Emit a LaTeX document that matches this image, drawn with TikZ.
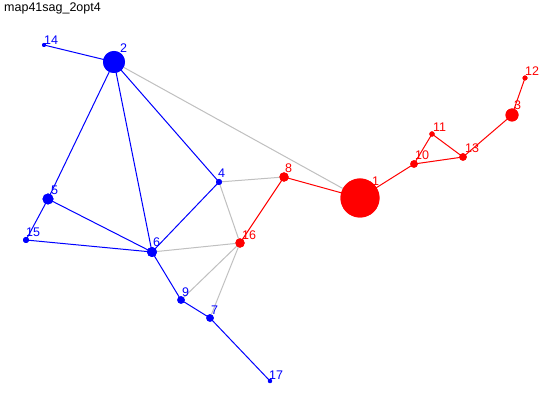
\documentclass[tikz,border=0pt]{standalone}
\usepackage{fontspec}
\setmainfont{Liberation Sans}
\begin{document}
\begin{tikzpicture}[x=1pt,y=-1pt,
  vb/.style={circle,fill=netblue,inner sep=0pt,minimum size=#1},
  vr/.style={circle,fill=netred,inner sep=0pt,minimum size=#1},
  lb/.style={anchor=base west,inner sep=0pt,text=netblue,font=\fontsize{12.5}{14}\selectfont},
  lr/.style={anchor=base west,inner sep=0pt,text=netred,font=\fontsize{12.5}{14}\selectfont},
  eb/.style={draw=netblue,line width=1pt},
  er/.style={draw=netred,line width=1pt},
  eg/.style={draw=netgray,line width=1pt}]
\definecolor{netblue}{RGB}{0,0,255}
\definecolor{netred}{RGB}{255,0,0}
\definecolor{netgray}{RGB}{192,192,192}
\useasboundingbox (0,0) rectangle (550,406);
\fill[white] (0,0) rectangle (550,406);
\node[anchor=base west,inner sep=0pt,font=\fontsize{12.5}{14}\selectfont] (title) at (4,12) {map41sag\_2opt4};
% nodes
\node[vr=39pt] (n1) at (360,198) {};
\node[vb=22pt] (n2) at (114,62) {};
\node[vr=13pt] (n3) at (512,115) {};
\node[vb=6pt] (n4) at (219,182) {};
\node[vb=11pt] (n5) at (48,199) {};
\node[vb=10pt] (n6) at (152,252) {};
\node[vb=7.5pt] (n7) at (210,318) {};
\node[vr=9.3pt] (n8) at (284,177) {};
\node[vb=7.5pt] (n9) at (181,300) {};
\node[vr=7.5pt] (n10) at (414,164) {};
\node[vr=5.3pt] (n11) at (432,134) {};
\node[vr=5pt] (n12) at (525,78) {};
\node[vr=7.5pt] (n13) at (463,157) {};
\node[vb=4pt] (n14) at (44,45) {};
\node[vb=6pt] (n15) at (26,240) {};
\node[vr=9.3pt] (n16) at (240,243) {};
\node[vb=4.3pt] (n17) at (270,381) {};
% edges
\begin{scope}[on background layer/.try]
\end{scope}
\path[eg] (n2.center) -- (n1.center);
\path[eg] (n4.center) -- (n8.center);
\path[eg] (n4.center) -- (n16.center);
\path[eg] (n6.center) -- (n16.center);
\path[eg] (n16.center) -- (n9.center);
\path[eg] (n16.center) -- (n7.center);
\path[eb] (n14.center) -- (n2.center);
\path[eb] (n2.center) -- (n5.center);
\path[eb] (n2.center) -- (n6.center);
\path[eb] (n2.center) -- (n4.center);
\path[eb] (n5.center) -- (n6.center);
\path[eb] (n5.center) -- (n15.center);
\path[eb] (n15.center) -- (n6.center);
\path[eb] (n6.center) -- (n4.center);
\path[eb] (n6.center) -- (n9.center);
\path[eb] (n9.center) -- (n7.center);
\path[eb] (n7.center) -- (n17.center);
\path[er] (n8.center) -- (n16.center);
\path[er] (n8.center) -- (n1.center);
\path[er] (n1.center) -- (n10.center);
\path[er] (n10.center) -- (n11.center);
\path[er] (n10.center) -- (n13.center);
\path[er] (n11.center) -- (n13.center);
\path[er] (n13.center) -- (n3.center);
\path[er] (n3.center) -- (n12.center);
% redraw nodes on top
\foreach \n/\r in {n2/11,n4/3,n5/5.5,n6/5,n7/3.75,n9/3.75,n14/2,n15/3,n17/2.15}
  \fill[netblue] (\n.center) circle (\r);
\foreach \n/\r in {n1/19.5,n3/6.5,n8/4.65,n10/3.75,n11/2.65,n12/2.5,n13/3.75,n16/4.65}
  \fill[netred] (\n.center) circle (\r);
% labels
\node[lb] (l14) at (44,45) {14};
\node[lb] (l2) at (120,53) {2};
\node[lb] (l5) at (51,195) {5};
\node[lb] (l15) at (26,237) {15};
\node[lb] (l6) at (153,247) {6};
\node[lb] (l4) at (218,178) {4};
\node[lr] (l8) at (285,173) {8};
\node[lr] (l16) at (242,240) {16};
\node[lb] (l9) at (182,297) {9};
\node[lb] (l7) at (211,315) {7};
\node[lb] (l17) at (269,380) {17};
\node[lr] (l1) at (372,186) {1};
\node[lr] (l10) at (415,160) {10};
\node[lr] (l11) at (433,132) {11};
\node[lr] (l13) at (465,153) {13};
\node[lr] (l3) at (514,110) {3};
\node[lr] (l12) at (525,76) {12};
\end{tikzpicture}
\end{document}
